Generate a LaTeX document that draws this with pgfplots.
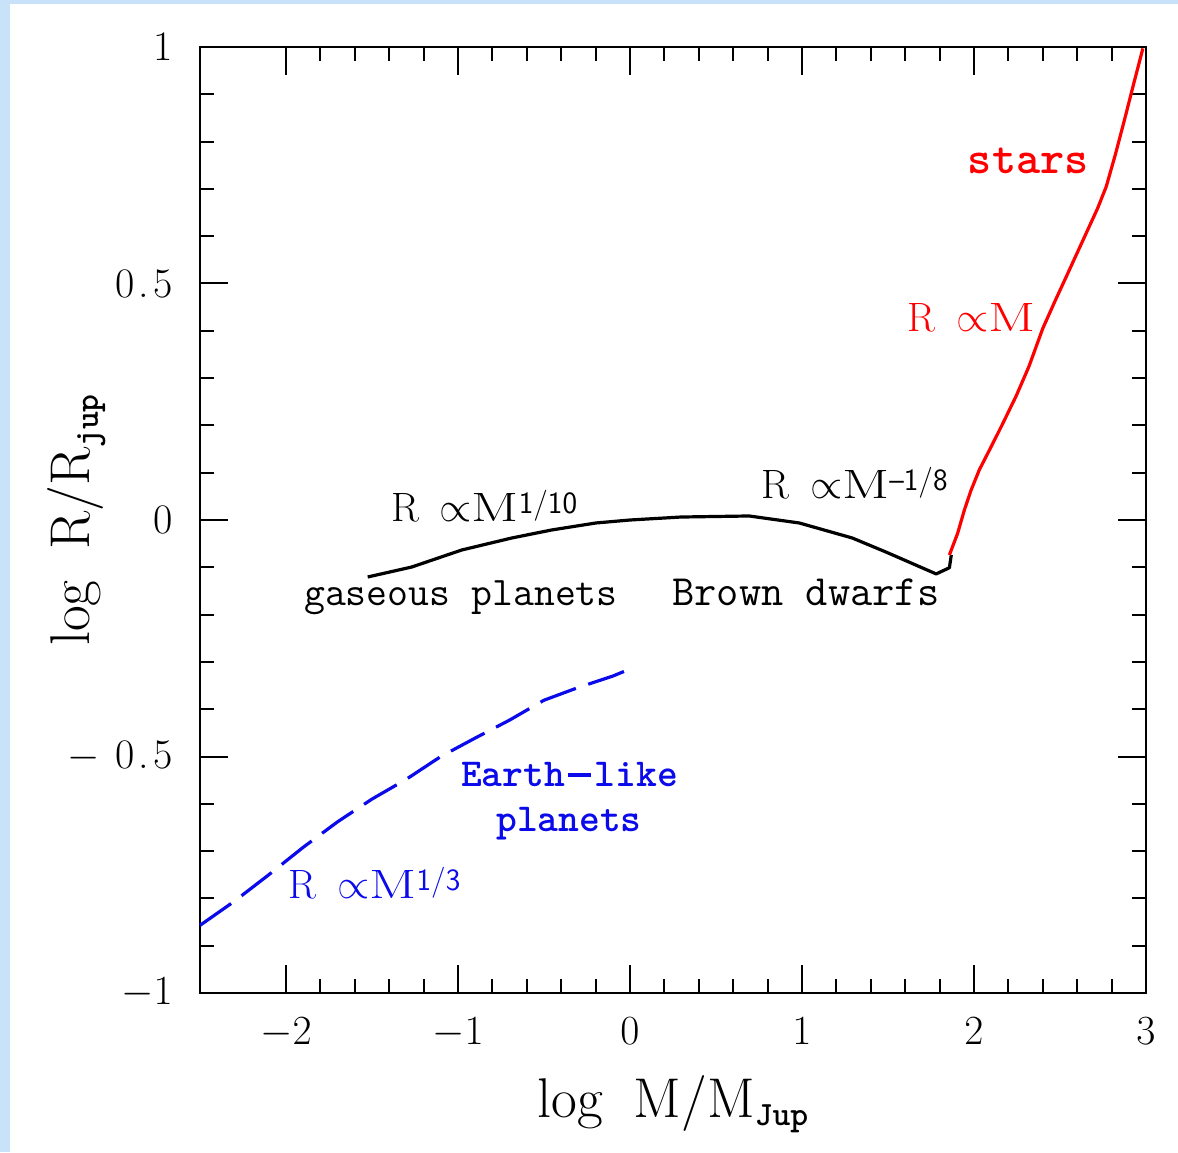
\documentclass[border=0pt]{standalone}
\usepackage{fontspec}
\usepackage{pgfplots}
\pgfplotsset{compat=1.18}

\definecolor{bgblue}{RGB}{200,226,250}
\definecolor{starred}{RGB}{255,0,0}
\definecolor{rockblue}{RGB}{10,10,235}

% wide capital M used in the annotations
\newcommand{\wideM}{\scalebox{1.35}[1]{M}}
% power-law annotation: R  \propto M^{exp}
\newcommand{\powlaw}[1]{R\hspace{0.5em}$\propto$\wideM\raisebox{4pt}{\fontsize{15.5}{15.5}\selectfont\sffamily #1}}
\newcommand{\sublab}[1]{\raisebox{-4pt}{\fontsize{17}{17}\selectfont\ttfamily\bfseries #1}}
% long hyphen drawn as a bar, one cell wide plus a little air
\newcommand{\ttminus}{\makebox[0.75em][c]{\rule[0.24em]{0.58em}{0.085em}}}
\newcommand{\dotfive}{0\kern2pt.\kern2pt5}

\begin{document}
\begin{tikzpicture}
% page background
\fill[bgblue] (-100pt,-79.5pt) rectangle (489pt,496.5pt);
\fill[white] (-95pt,-79.5pt) rectangle (489pt,494.5pt);

\begin{axis}[
  at={(0,0)}, anchor=south west,
  scale only axis, width=473pt, height=473pt,
  xmin=-2.5, xmax=3, ymin=-1, ymax=1,
  xtick={-2,-1,0,1,2,3}, ytick={-1,-0.5,0,0.5,1},
  yticklabels={$-1$, $-$\hspace{8pt}\dotfive, 0, \dotfive, 1},
  minor x tick num=4, minor y tick num=4,
  tick align=inside,
  major tick length=14pt, minor tick length=7pt,
  axis line style={line width=1.3pt},
  tick style={black, line width=1pt},
  tick label style={font=\fontsize{21}{21}\selectfont},
  xticklabel style={inner sep=0pt, anchor=north, yshift=-12pt},
  yticklabel style={inner sep=0pt, anchor=east, xshift=-13.5pt},
  every axis x label/.style={at={(axis description cs:0.5,0)}, yshift=-62pt, anchor=base},
  every axis y label/.style={at={(axis description cs:0,0.5)}, xshift=-55pt, rotate=90, anchor=base},
  label style={font=\fontsize{28}{28}\selectfont},
  xlabel={log\hspace{0.55em}M/M\sublab{Jup}},
  ylabel={log\hspace{0.55em}R/R\sublab{jup}},
  clip=false,
]

% gaseous planets and brown dwarfs
\addplot[black, line width=1.6pt, line join=round] coordinates {
  (-1.525,-0.1205) (-1.269,-0.0994) (-0.978,-0.0634) (-0.687,-0.038)
  (-0.454,-0.021) (-0.198,-0.0063) (0.0,0.0) (0.297,0.0063)
  (0.693,0.0085) (0.984,-0.0063) (1.292,-0.038) (1.49,-0.068)
  (1.78,-0.114) (1.857,-0.101) (1.868,-0.074)
};

% stars
\addplot[starred, line width=1.6pt, line join=round] coordinates {
  (1.857,-0.074) (1.905,-0.028) (1.944,0.021) (1.983,0.063)
  (2.031,0.106) (2.090,0.148) (2.158,0.197) (2.245,0.262)
  (2.320,0.325) (2.400,0.405) (2.470,0.462) (2.536,0.514)
  (2.652,0.606) (2.720,0.660) (2.769,0.705) (2.820,0.770)
  (2.875,0.846) (2.924,0.916) (2.982,0.997)
};

% rocky planets
\addplot[rockblue, line width=1.6pt, dash pattern=on 19pt off 6.5pt] coordinates {
  (-2.5,-0.857) (-2.3,-0.806) (-2.1,-0.750) (-1.9,-0.692)
  (-1.7,-0.638) (-1.5,-0.590) (-1.3,-0.548) (-1.1,-0.500)
  (-0.9,-0.461) (-0.7,-0.423) (-0.5,-0.381) (-0.3,-0.354)
  (-0.1,-0.330) (0.0,-0.315)
};

\begin{scope}[every node/.style={anchor=base west, inner sep=0pt}]
\node[font=\fontsize{20.5}{20.5}\selectfont] at (axis cs:-1.391,-0.004) {\powlaw{1/10}};
\node[font=\fontsize{20.3}{20.3}\selectfont\ttfamily] at (axis cs:-1.897,-0.180) {gaseous planets};
\node[font=\fontsize{20.5}{20.5}\selectfont] at (axis cs:0.763,0.0465) {\powlaw{\textendash 1/8}};
\node[font=\fontsize{21.6}{21.6}\selectfont\ttfamily] at (axis cs:0.244,-0.180) {Brown dwarfs};
\node[starred, font=\fontsize{23}{23}\selectfont\ttfamily\bfseries] at (axis cs:1.962,0.7315) {stars};
\node[starred, font=\fontsize{20.5}{20.5}\selectfont] at (axis cs:1.612,0.3975) {R\hspace{0.5em}$\propto$\wideM};
\node[rockblue, font=\fontsize{19.8}{19.8}\selectfont\ttfamily\bfseries] at (axis cs:-0.984,-0.5624) {Earth\ttminus like};
\node[rockblue, font=\fontsize{19.8}{19.8}\selectfont\ttfamily\bfseries] at (axis cs:-0.780,-0.6596) {planets};
\node[rockblue, font=\fontsize{20.5}{20.5}\selectfont] at (axis cs:-1.985,-0.801) {\powlaw{1/3}};
\end{scope}

\end{axis}
\end{tikzpicture}
\end{document}
